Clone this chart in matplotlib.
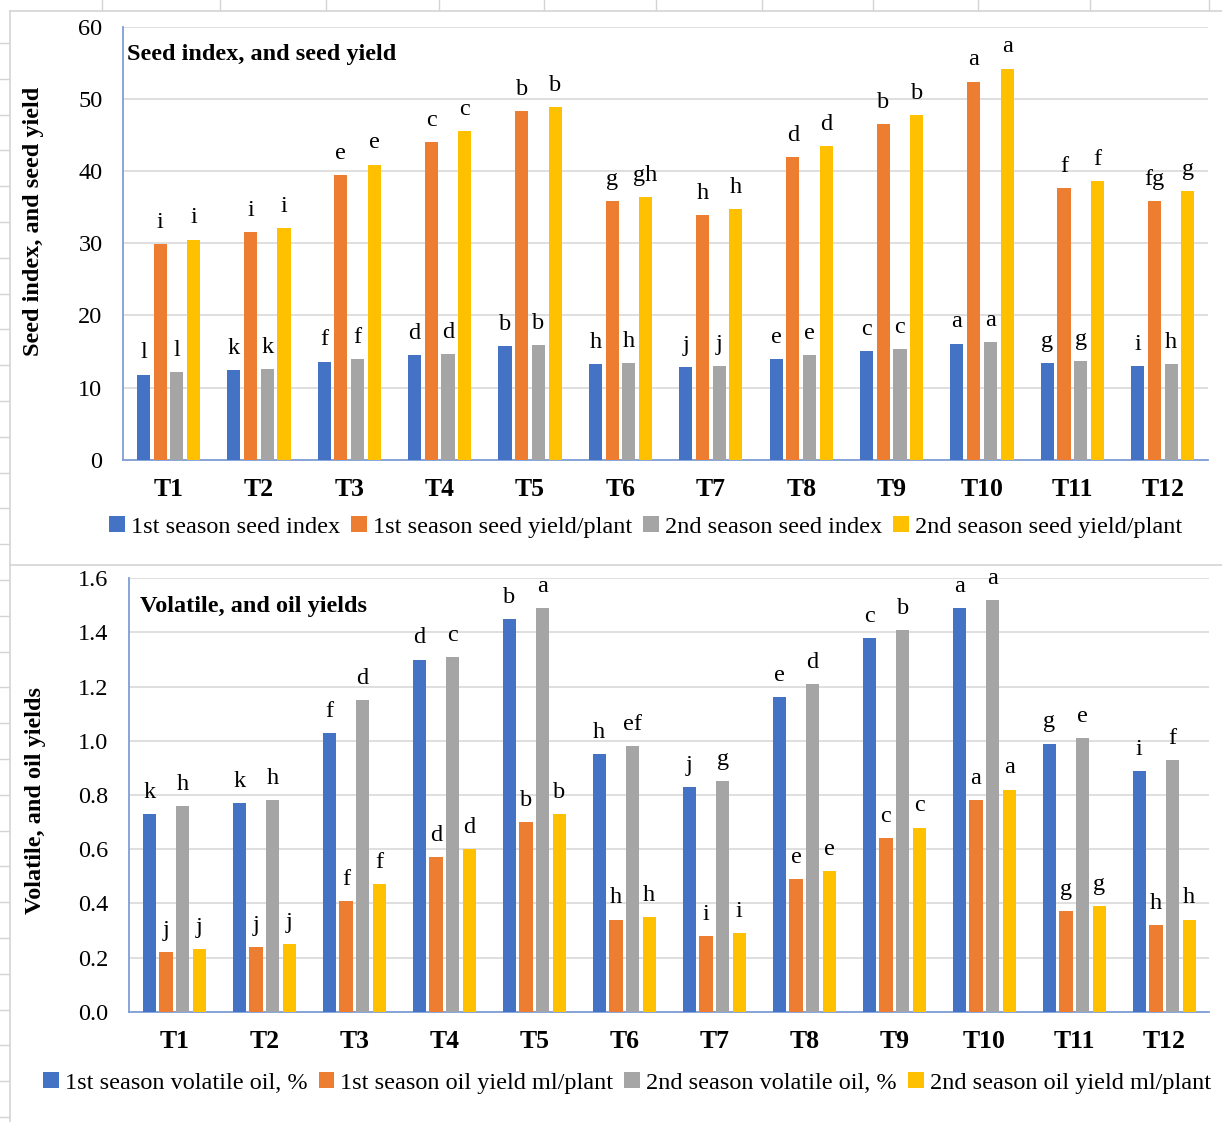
import numpy as np
import matplotlib
matplotlib.use('Agg')
import matplotlib.pyplot as plt
from matplotlib.lines import Line2D

plt.rcParams['font.family'] = ['Liberation Serif', 'DejaVu Serif']

treatments = ['T1', 'T2', 'T3', 'T4', 'T5', 'T6', 'T7', 'T8', 'T9', 'T10', 'T11', 'T12']

# seed index (g) and seed yield (g/plant)
seed_index_s1 = [11.8, 12.4, 13.6, 14.5, 15.7, 13.2, 12.8, 14.0, 15.1, 16.1, 13.4, 13.0]
seed_yield_s1 = [29.9, 31.5, 39.5, 44.0, 48.3, 35.8, 33.9, 41.9, 46.5, 52.4, 37.6, 35.8]
seed_index_s2 = [12.2, 12.6, 13.9, 14.6, 15.9, 13.4, 13.0, 14.5, 15.3, 16.3, 13.7, 13.2]
seed_yield_s2 = [30.5, 32.1, 40.9, 45.6, 48.9, 36.4, 34.7, 43.4, 47.7, 54.2, 38.6, 37.2]

letters_index_s1 = ['l', 'k', 'f', 'd', 'b', 'h', 'j', 'e', 'c', 'a', 'g', 'i']
letters_yield_s1 = ['i', 'i', 'e', 'c', 'b', 'g', 'h', 'd', 'b', 'a', 'f', 'fg']
letters_index_s2 = ['l', 'k', 'f', 'd', 'b', 'h', 'j', 'e', 'c', 'a', 'g', 'h']
letters_yield_s2 = ['i', 'i', 'e', 'c', 'b', 'gh', 'h', 'd', 'b', 'a', 'f', 'g']

# volatile oil % and oil yield (ml/plant)
volatile_s1 = [0.73, 0.77, 1.03, 1.30, 1.45, 0.95, 0.83, 1.16, 1.38, 1.49, 0.99, 0.89]
oil_s1 = [0.22, 0.24, 0.41, 0.57, 0.70, 0.34, 0.28, 0.49, 0.64, 0.78, 0.37, 0.32]
volatile_s2 = [0.76, 0.78, 1.15, 1.31, 1.49, 0.98, 0.85, 1.21, 1.41, 1.52, 1.01, 0.93]
oil_s2 = [0.23, 0.25, 0.47, 0.60, 0.73, 0.35, 0.29, 0.52, 0.68, 0.82, 0.39, 0.34]

letters_vol_s1 = ['k', 'k', 'f', 'd', 'b', 'h', 'j', 'e', 'c', 'a', 'g', 'i']
letters_oil_s1 = ['j', 'j', 'f', 'd', 'b', 'h', 'i', 'e', 'c', 'a', 'g', 'h']
letters_vol_s2 = ['h', 'h', 'd', 'c', 'a', 'ef', 'g', 'd', 'b', 'a', 'e', 'f']
letters_oil_s2 = ['j', 'j', 'f', 'd', 'b', 'h', 'i', 'e', 'c', 'a', 'g', 'h']

colors = ['#4472C4', '#ED7D31', '#A5A5A5', '#FFC000']
axis_blue = '#7F9ED6'
grid_grey = '#D9D9D9'

W, H = 1222, 1122
fig = plt.figure(figsize=(W / 100, H / 100), dpi=100)


def px_rect(left, top, right, bottom):
    return [left / W, 1 - bottom / H, (right - left) / W, (bottom - top) / H]


def draw_panel(ax, series, letters, names, ymax, ystep, fmt, title, title_xy):
    x = np.arange(len(treatments))
    step, width = 0.185, 0.145
    for i, (vals, labs) in enumerate(zip(series, letters)):
        pos = x + (i - 1.5) * step
        ax.bar(pos, vals, width, color=colors[i], label=names[i], zorder=3)
        for p, v, t in zip(pos, vals, labs):
            ax.annotate(t, (p, v), xytext=(0, 8), textcoords='offset points',
                        ha='center', va='bottom', fontsize=17.5)
    ax.set_xlim(-0.5, len(treatments) - 0.5)
    ax.set_ylim(0, ymax)
    ticks = np.arange(0, ymax + ystep / 2, ystep)
    ax.set_yticks(ticks)
    ax.set_yticklabels([fmt.format(v) for v in ticks])
    ax.set_xticks(x)
    ax.set_xticklabels(treatments, fontweight='bold', fontsize=18.5)
    ax.tick_params(axis='y', length=0, pad=15, labelsize=17.5)
    ax.tick_params(axis='x', length=0, pad=13)
    ax.grid(axis='y', color=grid_grey, lw=1.2, zorder=0)
    ax.set_axisbelow(True)
    for s in ['top', 'right']:
        ax.spines[s].set_visible(False)
    for s in ['left', 'bottom']:
        ax.spines[s].set_color(axis_blue)
        ax.spines[s].set_linewidth(1.3)
    ax.text(title_xy[0], title_xy[1], title, transform=ax.transAxes,
            fontsize=17.5, fontweight='bold', ha='left', va='baseline')


# spreadsheet background: chart frames and cell ticks
frame = '#D4D4D4'
fig.add_artist(Line2D([10 / W, 10 / W], [0, 1 - 11 / H], color=frame, lw=1.2))
fig.add_artist(Line2D([10 / W, 1], [1 - 11 / H, 1 - 11 / H], color=frame, lw=1.2))
fig.add_artist(Line2D([10 / W, 1], [1 - 565 / H, 1 - 565 / H], color=frame, lw=1.2))
for yy in np.arange(43, H, 35.8):
    fig.add_artist(Line2D([0, 9 / W], [1 - yy / H, 1 - yy / H], color=frame, lw=1))
for xx in [102, 220, 326, 439, 544, 656, 762, 873, 978, 1090, 1209]:
    fig.add_artist(Line2D([xx / W, xx / W], [1, 1 - 10 / H], color=frame, lw=1))

ax1 = fig.add_axes(px_rect(123.3, 26.7, 1208, 459.7))
draw_panel(ax1,
           [seed_index_s1, seed_yield_s1, seed_index_s2, seed_yield_s2],
           [letters_index_s1, letters_yield_s1, letters_index_s2, letters_yield_s2],
           ['1st season seed index', '1st season seed yield/plant',
            '2nd season seed index', '2nd season seed yield/plant'],
           60, 10, '{:.0f}', 'Seed index, and seed yield', (0.003, 0.922))

ax2 = fig.add_axes(px_rect(129.3, 578.3, 1209.3, 1011.7))
draw_panel(ax2,
           [volatile_s1, oil_s1, volatile_s2, oil_s2],
           [letters_vol_s1, letters_oil_s1, letters_vol_s2, letters_oil_s2],
           ['1st season volatile oil, %', '1st season oil yield ml/plant',
            '2nd season volatile oil, %', '2nd season oil yield ml/plant'],
           1.6, 0.2, '{:.1f}', 'Volatile, and oil yields', (0.010, 0.923))

fig.text(34 / W, 1 - 221 / H, 'Seed index, and seed yield', rotation=90,
         ha='center', va='center', fontsize=17.5, fontweight='bold')
fig.text(36 / W, 1 - 800 / H, 'Volatile, and oil yields', rotation=90,
         ha='center', va='center', fontsize=17.5, fontweight='bold')

for ax, cx, cy in [(ax1, 646, 527), (ax2, 627, 1083)]:
    h, l = ax.get_legend_handles_labels()
    fig.legend(h, l, loc='center', bbox_to_anchor=(cx / W, 1 - cy / H), ncol=4,
               frameon=False, fontsize=17.5, handlelength=0.65, handleheight=0.65,
               handletextpad=0.25, columnspacing=0.45, borderpad=0)

fig.savefig('out.png', dpi=100)
